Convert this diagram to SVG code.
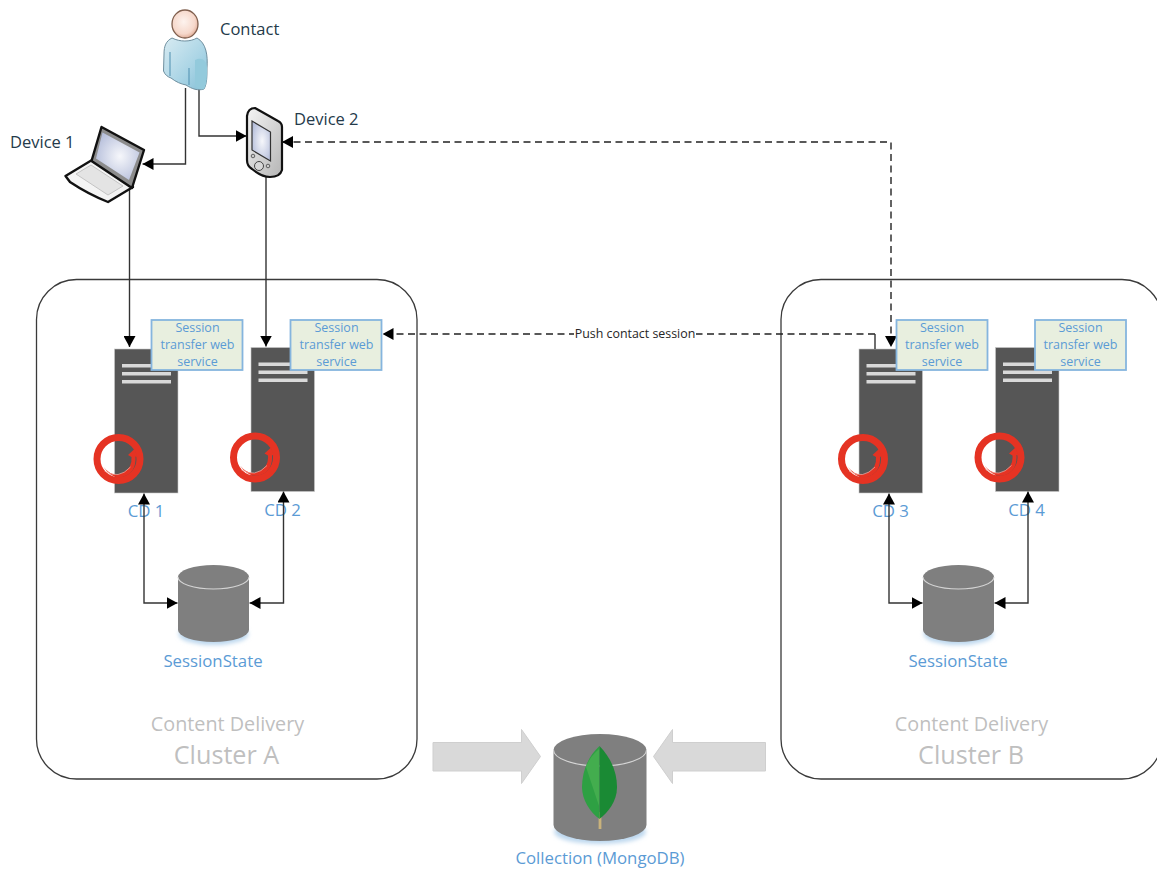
<svg xmlns="http://www.w3.org/2000/svg" width="1157" height="869" viewBox="0 0 1157 869">
<style>
text{font-family:"Open Sans","Noto Sans","Liberation Sans",sans-serif}
.dark{font-size:16.5px;fill:#243a4a}
.blue{font-size:16.8px;fill:#5b9bd5;text-anchor:middle}
.svc{font-size:12.5px;fill:#5b9bd5;text-anchor:middle}
.cl1{font-size:19.8px;fill:#bfbfbf;text-anchor:middle}
.cl2{font-size:25.2px;fill:#bfbfbf;text-anchor:middle}
.cluster{fill:#fff;stroke:#3a3a3a;stroke-width:1.300}
.box{fill:#e8efdf;stroke:#85b5de;stroke-width:1.800}
.conn{fill:none;stroke:#333;stroke-width:1.400}
.dash{stroke:#222;stroke-dasharray:7 4.500}
.big{fill:#d9d9d9;stroke:#cfcfcf;stroke-width:1}
.cyl{fill:#7f7f7f}
.rim{fill:none;stroke:#d4d4d4;stroke-width:1.100}
</style>
<defs>
<marker id="tip" markerUnits="userSpaceOnUse" viewBox="0 0 11 12" refX="11" refY="6" markerWidth="11" markerHeight="12" orient="auto-start-reverse"><path d="M0 0L11 6L0 12Z" fill="#000"/></marker>
<linearGradient id="body" x1="0" y1="0" x2="1" y2="1"><stop offset="0" stop-color="#d8ebf2"/><stop offset=".6" stop-color="#a9d4e5"/><stop offset="1" stop-color="#84bfd6"/></linearGradient>
<radialGradient id="head" cx=".45" cy=".42" r=".62"><stop offset="0" stop-color="#fdf3ee"/><stop offset=".7" stop-color="#f6d8cb"/><stop offset="1" stop-color="#dda68f"/></radialGradient>
<radialGradient id="scr" cx=".55" cy=".5" r=".62"><stop offset="0" stop-color="#f6f7fb"/><stop offset="1" stop-color="#b4bdda"/></radialGradient>
<linearGradient id="phone" x1="0" y1="0" x2="1" y2="1"><stop offset="0" stop-color="#f5f5f5"/><stop offset="1" stop-color="#b5b5b5"/></linearGradient>
<filter id="soft" x="-20%" y="-20%" width="140%" height="140%"><feGaussianBlur stdDeviation="2"/></filter>
<g id="server">
<rect x="0" y="0" width="63.500" height="144" fill="#565656" stroke="#c8c8c8" stroke-width=".6"/>
<rect x="7.500" y="15" width="49" height="3.500" fill="#d9d9d9"/>
<rect x="7.500" y="23" width="49" height="3.500" fill="#d9d9d9"/>
<rect x="7.500" y="31" width="49" height="3.500" fill="#d9d9d9"/>
<circle cx="4" cy="110" r="21.500" fill="none" stroke="#e53323" stroke-width="7"/>
<path d="M-11 118Q-2 129 8 124Q18 119 17 108L13.500 106L20 100L23 108L21 107.500Q22 124 8 128Q-3 130 -11 118Z" fill="#e53323"/>
<path d="M-10 122Q4 131 16 118" fill="none" stroke="#f3b2aa" stroke-width=".7"/>
</g>
<g id="cylinder">
<path d="M-35.500 12V65A35.500 12 0 0 0 35.500 65V12A35.500 12 0 0 0 -35.500 12Z" class="cyl"/>
<path d="M-35.500 12A35.500 12 0 0 0 35.500 12" class="rim"/>
</g>
</defs>
<rect width="1157" height="869" fill="#fff"/>

<g id="cluster-a"><rect class="cluster" x="36.500" y="279.500" width="380.500" height="499.500" rx="40"/>
<text class="cl1" x="227.500" y="731">Content Delivery</text><text class="cl2" x="226.500" y="764">Cluster A</text></g>
<g id="cluster-b"><rect class="cluster" x="781" y="279.500" width="381" height="499.500" rx="40"/>
<text class="cl1" x="971.500" y="731">Content Delivery</text><text class="cl2" x="971" y="764">Cluster B</text></g>

<g id="cd1"><use href="#server" x="114.500" y="349"/><text class="blue" x="146" y="516.500">CD 1</text></g>
<g id="cd2"><use href="#server" x="251" y="347.500"/><text class="blue" x="282.500" y="515.500">CD 2</text></g>
<g id="cd3"><use href="#server" x="859" y="349"/><text class="blue" x="890.500" y="516.500">CD 3</text></g>
<g id="cd4"><use href="#server" x="995.500" y="347.500"/><text class="blue" x="1026.500" y="515.500">CD 4</text></g>

<g id="connectors">
<path class="conn" d="M185.500 88V164H142.500" marker-end="url(#tip)"/>
<path class="conn" d="M199 88V136H246.500" marker-end="url(#tip)"/>
<path class="conn" d="M129.500 190V347" marker-end="url(#tip)"/>
<path class="conn" d="M266 176V346.500" marker-end="url(#tip)"/>
<path class="conn dash" d="M282 142H891V347" marker-start="url(#tip)" marker-end="url(#tip)"/>
<path class="conn dash" d="M875 334H382.500" marker-end="url(#tip)"/>
<path class="conn" d="M875 349V334"/>
<path class="conn" d="M144 493.500V603H177.500" marker-start="url(#tip)" marker-end="url(#tip)"/>
<path class="conn" d="M283.500 491.500V603H249.500" marker-start="url(#tip)" marker-end="url(#tip)"/>
<path class="conn" d="M889 493.500V603H922.500" marker-start="url(#tip)" marker-end="url(#tip)"/>
<path class="conn" d="M1028 491.500V603H994.500" marker-start="url(#tip)" marker-end="url(#tip)"/>
<path class="big" d="M433 742.500H521.500V729.500L540.500 756.500L521.500 783.500V771H433Z"/>
<path class="big" d="M765.500 742.500H672.500V729.500L653.500 756.500L672.500 783.500V771H765.500Z"/>
<rect x="574" y="326" width="122" height="16" fill="#fff"/>
<text x="635" y="338" font-size="12.400" fill="#262626" text-anchor="middle">Push contact session</text>
</g>

<g id="svc1"><rect class="box" x="151.500" y="320" width="91" height="50"/><text class="svc" x="197.500" y="332">Session</text><text class="svc" x="197.500" y="349">transfer web</text><text class="svc" x="197.500" y="366">service</text></g>
<g id="svc2"><rect class="box" x="290.500" y="320" width="91" height="50"/><text class="svc" x="336.500" y="332">Session</text><text class="svc" x="336.500" y="349">transfer web</text><text class="svc" x="336.500" y="366">service</text></g>
<g id="svc3"><rect class="box" x="896.500" y="320" width="91" height="50"/><text class="svc" x="942" y="332">Session</text><text class="svc" x="942" y="349">transfer web</text><text class="svc" x="942" y="366">service</text></g>
<g id="svc4"><rect class="box" x="1035" y="320" width="91" height="50"/><text class="svc" x="1080.500" y="332">Session</text><text class="svc" x="1080.500" y="349">transfer web</text><text class="svc" x="1080.500" y="366">service</text></g>

<g id="sessionstate-a"><ellipse cx="213.500" cy="634" rx="35" ry="11" fill="#bcd7ee" filter="url(#soft)"/><use href="#cylinder" x="213.500" y="565"/><text class="blue" x="213" y="666.500">SessionState</text></g>
<g id="sessionstate-b"><ellipse cx="958.500" cy="634" rx="35" ry="11" fill="#bcd7ee" filter="url(#soft)"/><use href="#cylinder" x="958.500" y="565"/><text class="blue" x="958" y="666.500">SessionState</text></g>

<g id="mongodb">
<ellipse cx="600" cy="832" rx="46" ry="12" fill="#bcd7ee" filter="url(#soft)"/>
<path class="cyl" d="M553.500 750V825A46.500 16 0 0 0 646.500 825V750A46.500 16 0 0 0 553.500 750Z"/>
<path class="rim" d="M553.500 750A46.500 16 0 0 0 646.500 750"/>
<path d="M600 812V829" stroke="#c9b27c" stroke-width="2.800"/>
<path d="M599.500 746C588 756 582 772 582 787C582 800 590 812 599.500 819Z" fill="#2ea043"/>
<path d="M599.500 746C611 758 617 772 617 787C617 802 608 812 599.500 819Z" fill="#1a8a34"/>
<path d="M599 749C592 755 588 761 586 767L599 806Z" fill="#4db253" opacity=".7"/>
<text class="blue" x="600" y="864">Collection (MongoDB)</text>
</g>

<g id="contact">
<path d="M172 38C166 41 164 46 164 54L163.500 71C165 75 168 77 171 78C176 82 181 84 186 85C192 89 198 91 204 89C207 84 207 76 207 68C208 55 206 43 197 38C190 42 180 42 172 38Z" fill="url(#body)" stroke="#6f8f9f" stroke-width="1"/>
<path d="M170 52V76M189 68V85" stroke="#4f8fb0" stroke-width="1" fill="none"/>
<path d="M195 60C203 56 207 62 207 68C207 76 207 84 204 89C199 90 196 88 195 84Z" fill="#93cadc"/>
<ellipse cx="185" cy="24" rx="13" ry="14" fill="url(#head)" stroke="#80604f" stroke-width="1.300"/>
<text class="dark" x="220" y="35">Contact</text>
</g>
<g id="device1">
<path d="M65.500 176L92 160L133 187L108 202Q88 194 70 182Z" fill="#f4f4f4" stroke="#111" stroke-width="2.400" stroke-linejoin="round"/>
<path d="M76 174L91 165L123 186L108 195Z" fill="#e4e4e4" stroke="#c4c4c4" stroke-width="1"/>
<path d="M101.500 127L144 150L132 188L91.500 161Z" fill="#8c8c8c" stroke="#111" stroke-width="2.400" stroke-linejoin="round"/>
<path d="M102.500 132.500L139.500 152.500L129 180L96 158.500Z" fill="url(#scr)"/>
<text class="dark" x="10" y="148">Device 1</text>
</g>
<g id="device2">
<path d="M247 116Q248 108 255 108L278 121Q282 123 282 127V170Q280 177 270 177Q262 177 252 169Q247 166 247 160Z" fill="url(#phone)" stroke="#111" stroke-width="2.200" stroke-linejoin="round"/>
<path d="M252 121L270.500 132V161L252 150Z" fill="url(#scr)" stroke="#333" stroke-width="1.200"/>
<circle cx="259" cy="166" r="4.500" fill="#d8d8d8" stroke="#444"/>
<circle cx="253" cy="156" r="1.800" fill="#ccc" stroke="#444" stroke-width=".8"/>
<circle cx="268" cy="166" r="1.800" fill="#ccc" stroke="#444" stroke-width=".8"/>
<text class="dark" x="294" y="125">Device 2</text>
</g>
</svg>
